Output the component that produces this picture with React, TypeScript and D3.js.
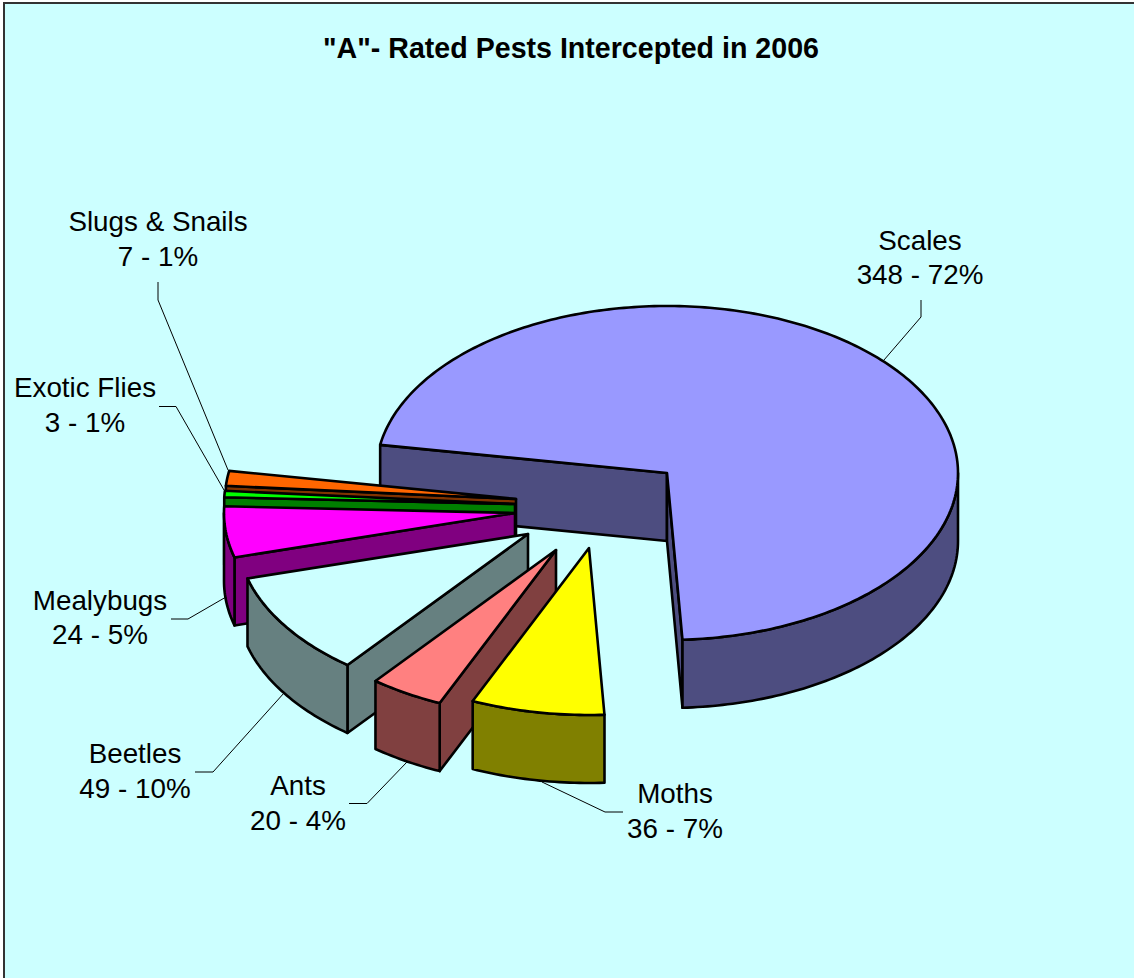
import React from "react";
import * as d3 from "d3";

// ---- data ----
const categories = ["Scales", "Moths", "Ants", "Beetles", "Mealybugs", "Exotic Flies", "Slugs & Snails"];
const counts = [348, 36, 20, 49, 24, 3, 7];
const shares = ["72%", "7%", "4%", "10%", "5%", "1%", "1%"];
const title = '"A"- Rated Pests Intercepted in 2006';

// ---- style ----
const topColors = ["#9999FF", "#FFFF00", "#FF8080", "#CCFFFF", "#FF00FF", "#00FF00", "#FF6600"];
const wallColors = ["#4D4D80", "#808000", "#804040", "#668080", "#800080", "#008000", "#803300"];
const BG = "#CCFFFF";

// ---- layout (exploded-slice apexes, paint order, label anchors, leader lines) ----
const apexes: [number, number][] = [[667, 473], [589, 548], [556, 550], [528, 534], [515, 513], [515, 504], [516, 499]];
const paintOrder = [0, 6, 5, 4, 3, 2, 1];
const labelAnchors: [number, number, number][] = [
  [920, 250, 284], [675, 803, 838], [298, 795, 830], [135, 763, 798],
  [100, 610, 644], [85, 397, 432], [158, 231, 266],
];
const leaders: [number, number][][] = [
  [[921, 300], [921, 317], [884, 360]],
  [[623, 812], [605, 812], [542, 782]],
  [[349, 803.5], [367, 803.5], [407, 762]],
  [[195, 772], [213, 772], [284, 693]],
  [[171, 619], [188, 619], [226, 597]],
  [[159, 406.5], [176, 406.5], [224, 490]],
  [[158, 282], [158, 300], [228, 470]],
];
const RX = 291;
const RY = 167;
const DEPTH = 68;
const START_DEG = 279.7;
const rad = (d: number) => (d * Math.PI) / 180;

const sx = d3.scaleLinear().domain([-1, 1]).range([-RX, RX]);
const sy = d3.scaleLinear().domain([-1, 1]).range([-RY, RY]);
const pie = d3
  .pie<number>()
  .sort(null)
  .startAngle(rad(START_DEG))
  .endAngle(rad(START_DEG + 360));
const line = d3.line();

function sampleArc(a0: number, a1: number, ax: number, ay: number, dz = 0): [number, number][] {
  const n = Math.max(2, Math.ceil(Math.abs(a1 - a0) / rad(1)));
  return d3.range(n + 1).map((i) => {
    const a = a0 + ((a1 - a0) * i) / n;
    return [ax + sx(Math.sin(a)), ay + sy(-Math.cos(a)) + dz] as [number, number];
  });
}

export default function App() {
  const arcs = pie(counts);
  const strokeProps = { stroke: "#000", strokeWidth: 2.6, strokeLinejoin: "round" as const };
  const font = "'Liberation Sans', Arial, sans-serif";

  return (
    <svg
      width={1134}
      height={978}
      viewBox="0 0 1134 978"
      style={{ position: "fixed", left: 0, top: 0, display: "block", background: "#fff" }}
    >
      <rect x={4} y={3} width={1200} height={1100} fill={BG} stroke="#333" strokeWidth={2} />
      <text x={571} y={58} textAnchor="middle" fontFamily={font} fontWeight="bold" fontSize={28.6} fill="#000">
        {title}
      </text>

      {paintOrder.map((i) => {
        const d = arcs[i];
        const [ax, ay] = apexes[i];
        const wall = (a: number) => {
          const [p] = sampleArc(a, a, ax, ay);
          return line([[ax, ay], p, [p[0], p[1] + DEPTH], [ax, ay + DEPTH]])! + "Z";
        };
        const lo = Math.max(d.startAngle, rad(450));
        const hi = Math.min(d.endAngle, rad(630));
        const rim =
          hi > lo
            ? line([...sampleArc(lo, hi, ax, ay), ...sampleArc(lo, hi, ax, ay, DEPTH).reverse()])! + "Z"
            : null;
        const top = line([[ax, ay], ...sampleArc(d.startAngle, d.endAngle, ax, ay)])! + "Z";
        // A radial wall shows only when its outward side faces the viewer.
        const showStart = Math.sin(d.startAngle) < 0;
        const showEnd = Math.sin(d.endAngle) > 0;
        return (
          <g key={categories[i]}>
            {showStart && <path d={wall(d.startAngle)} fill={wallColors[i]} {...strokeProps} />}
            {showEnd && <path d={wall(d.endAngle)} fill={wallColors[i]} {...strokeProps} />}
            {rim && <path d={rim} fill={wallColors[i]} {...strokeProps} />}
            <path d={top} fill={topColors[i]} {...strokeProps} />
          </g>
        );
      })}

      {leaders.map((pts, i) => (
        <path key={i} d={line(pts)!} fill="none" stroke="#000" strokeWidth={1} />
      ))}

      {categories.map((c, i) => {
        const [x, y1, y2] = labelAnchors[i];
        return (
          <text key={c} textAnchor="middle" fontFamily={font} fontSize={27.8} fill="#000">
            <tspan x={x} y={y1}>{c}</tspan>
            <tspan x={x} y={y2}>{`${counts[i]} - ${shares[i]}`}</tspan>
          </text>
        );
      })}
    </svg>
  );
}
